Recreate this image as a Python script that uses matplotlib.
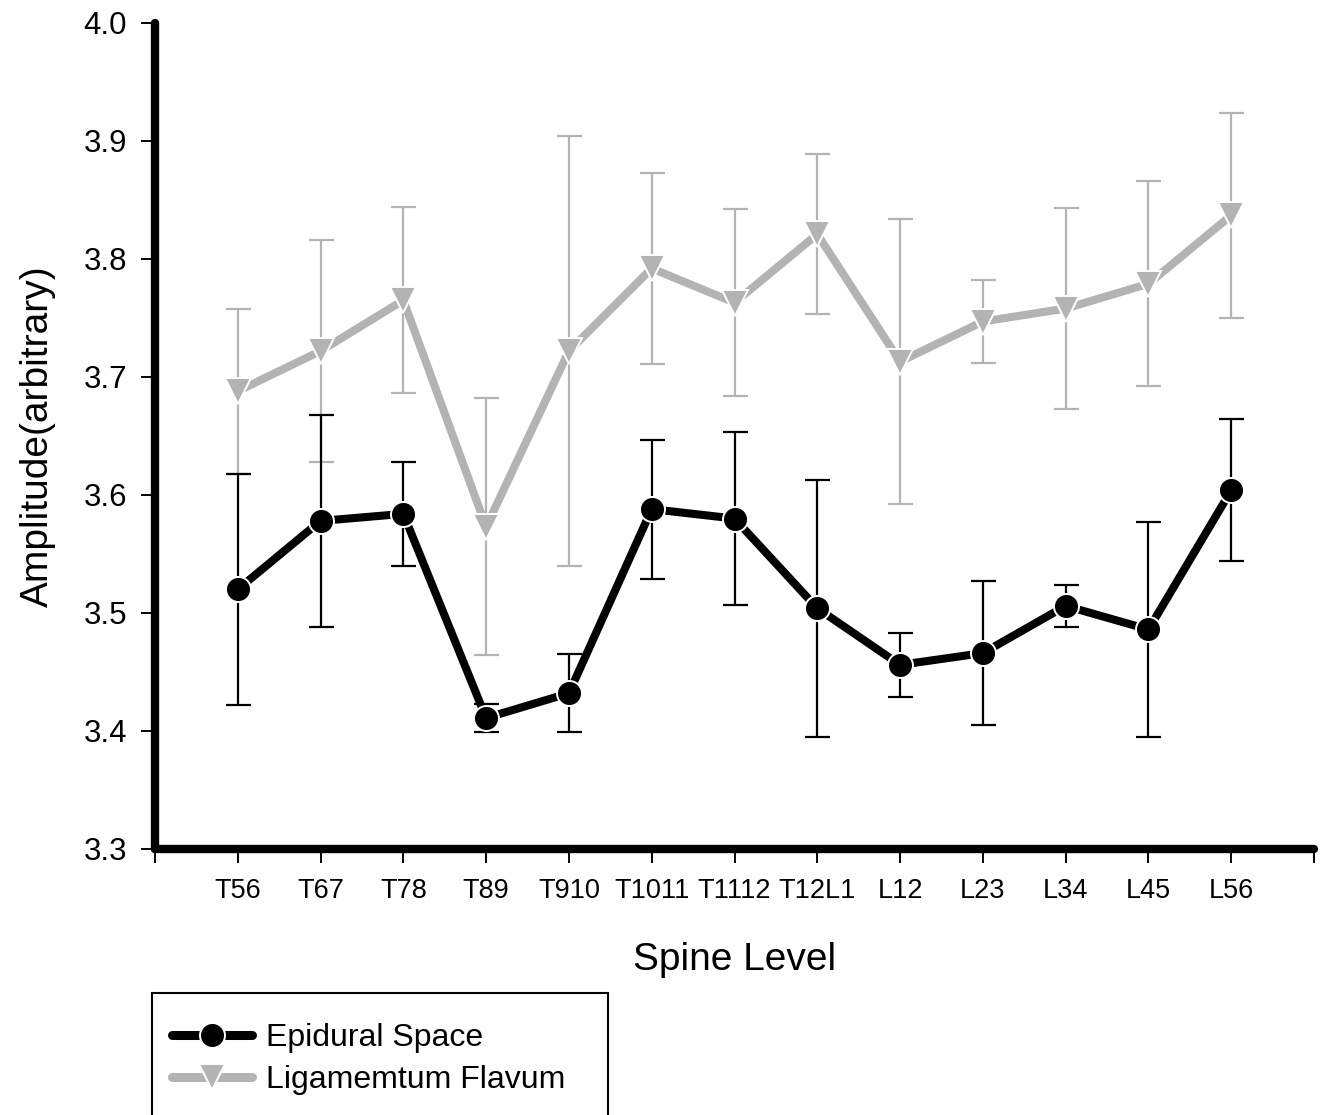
import matplotlib
matplotlib.use("Agg")
import matplotlib.pyplot as plt
from matplotlib.lines import Line2D
from matplotlib.patches import Rectangle

plt.rcParams["font.family"] = ["Liberation Sans", "DejaVu Sans"]

# ── Data ────────────────────────────────────────────────────────────────────
levels = ["T56", "T67", "T78", "T89", "T910", "T1011", "T1112",
          "T12L1", "L12", "L23", "L34", "L45", "L56"]

epidural = [3.520, 3.578, 3.584, 3.411, 3.432, 3.588, 3.580,
            3.504, 3.456, 3.466, 3.506, 3.486, 3.604]
epidural_err = [0.098, 0.090, 0.044, 0.012, 0.033, 0.059, 0.073,
                0.109, 0.027, 0.061, 0.018, 0.091, 0.060]

ligamentum = [3.688, 3.722, 3.765, 3.573, 3.722, 3.792, 3.763,
              3.821, 3.713, 3.747, 3.758, 3.779, 3.837]
ligamentum_err = [0.070, 0.094, 0.079, 0.109, 0.182, 0.081, 0.079,
                  0.068, 0.121, 0.035, 0.085, 0.087, 0.087]

GRAY = "#b3b3b3"
x = list(range(1, len(levels) + 1))

fig = plt.figure(figsize=(13.2, 11.15), dpi=100)
ax = fig.add_axes([0.1174, 0.2386, 0.8781, 0.7408])

# ── Ligamentum flavum (gray) ────────────────────────────────────────────────
ax.errorbar(x, ligamentum, yerr=ligamentum_err, fmt="none", ecolor=GRAY,
            elinewidth=1.6, capsize=9, capthick=1.6, zorder=2)
ax.plot(x, ligamentum, color=GRAY, lw=5.8, marker="v", markersize=19,
        markerfacecolor=GRAY, markeredgecolor="white", markeredgewidth=1.4,
        zorder=3)

# ── Epidural space (black) ──────────────────────────────────────────────────
ax.errorbar(x, epidural, yerr=epidural_err, fmt="none", ecolor="black",
            elinewidth=1.6, capsize=9, capthick=1.6, zorder=4)
ax.plot(x, epidural, color="black", lw=5.8, marker="o", markersize=18,
        markerfacecolor="black", markeredgecolor="white", markeredgewidth=1.4,
        zorder=5)

# ── Axes styling ────────────────────────────────────────────────────────────
ax.set_xlim(0, 14)
ax.set_ylim(3.3, 4.0)
ax.set_xticks(range(0, 15))
ax.set_xticklabels([""] + levels + [""], fontsize=19.5)
ax.set_yticks([3.3, 3.4, 3.5, 3.6, 3.7, 3.8, 3.9, 4.0])
ax.set_yticklabels(["3.3", "3.4", "3.5", "3.6", "3.7", "3.8", "3.9", "4.0"],
                   fontsize=22.5)
ax.tick_params(axis="both", direction="out", length=10, width=1.4,
               color="black")
ax.tick_params(axis="x", pad=11)
ax.tick_params(axis="y", pad=10)

for side in ("top", "right"):
    ax.spines[side].set_visible(False)
for side in ("left", "bottom"):
    ax.spines[side].set_linewidth(6)
    ax.spines[side].set_capstyle("round")

ax.set_xlabel("Spine Level", fontsize=28, labelpad=27)
ax.set_ylabel("Amplitude(arbitrary)", fontsize=28, labelpad=20)
ax.patch.set_visible(False)

# ── Legend (box runs off the bottom edge, as in the reference) ─────────────
frame = Rectangle((152 / 1320, -0.05), (608 - 152) / 1320,
                  1 - 993 / 1115 + 0.05, transform=fig.transFigure,
                  fill=False, edgecolor="black", lw=1.5)
fig.patches.append(frame)

handles = [
    Line2D([], [], color="black", lw=6.5, marker="o", markersize=18,
           markerfacecolor="black", markeredgecolor="white",
           markeredgewidth=1.4, solid_capstyle="round"),
    Line2D([], [], color=GRAY, lw=6.5, marker="v", markersize=19,
           markerfacecolor=GRAY, markeredgecolor="white",
           markeredgewidth=1.4, solid_capstyle="round"),
]
fig.legend(handles, ["Epidural Space", "Ligamemtum Flavum"],
           loc="upper left", bbox_to_anchor=(172 / 1320, 1 - 1023 / 1115),
           frameon=False, fontsize=23, handlelength=2.5, handletextpad=0.45,
           labelspacing=0.38, borderpad=0, borderaxespad=0)

fig.savefig("out.png", dpi=100, facecolor="white")
